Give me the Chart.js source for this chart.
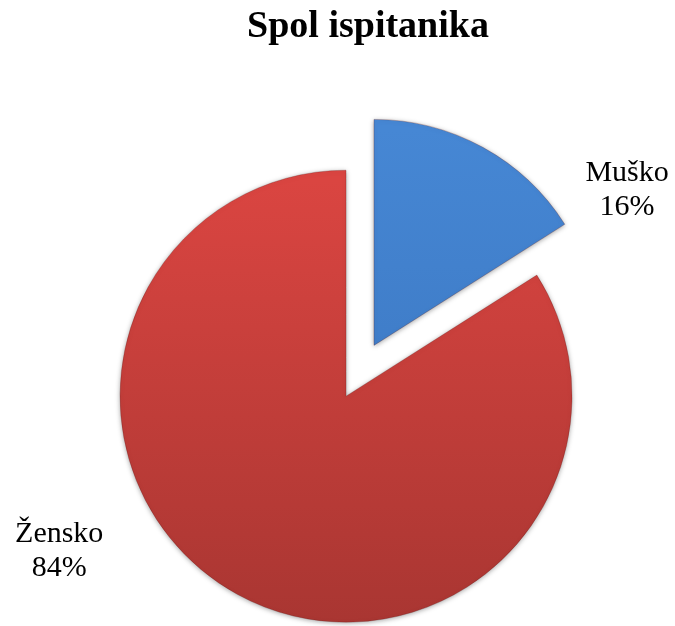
<!DOCTYPE html>
<html>
<head>
<meta charset="utf-8">
<script src="https://cdn.jsdelivr.net/npm/chart.js@4"></script>
<style>
  html, body { margin: 0; padding: 0; background: #fff; }
  #wrap { width: 675px; height: 626px; }
</style>
</head>
<body>
<div id="wrap"><canvas id="myChart"></canvas></div>
<script>
const categories = ["Muško", "Žensko"];
const percentages = [16, 84];
const sliceColors = [["#4687d4", "#3872bc"], ["#da4541", "#a63531"]];

// pull every slice out of the centre by this many pixels
const EXPLODE = 29;

const explodedSlices = {
  id: "explodedSlices",
  beforeDatasetDraw(chart, args) {
    const ctx = chart.ctx;
    args.meta.data.forEach((arc) => {
      const mid = (arc.startAngle + arc.endAngle) / 2;
      ctx.save();
      ctx.shadowColor = "rgba(0,0,0,0.35)";
      ctx.shadowBlur = 5;
      ctx.shadowOffsetY = 1;
      ctx.translate(Math.cos(mid) * EXPLODE, Math.sin(mid) * EXPLODE);
      arc.draw(ctx, chart.chartArea);
      ctx.restore();
    });
    return false;
  },
};

// outside labels: name on one line, percentage under it
const outsideLabels = {
  id: "outsideLabels",
  afterDraw(chart) {
    const ctx = chart.ctx;
    const meta = chart.getDatasetMeta(0);
    const shift = [0.47, 0.53];
    const dist = [1.43, 1.55];
    ctx.save();
    ctx.font = "30px 'Liberation Serif', 'Times New Roman', serif";
    ctx.fillStyle = "#000";
    ctx.textAlign = "center";
    ctx.textBaseline = "middle";
    meta.data.forEach((arc, i) => {
      const p = arc.getProps(["x", "y", "startAngle", "endAngle", "outerRadius"], true);
      const a = (p.startAngle + p.endAngle) / 2 + shift[i];
      const lx = p.x + Math.cos(a) * p.outerRadius * dist[i];
      const ly = p.y + Math.sin(a) * p.outerRadius * dist[i];
      ctx.fillText(categories[i], lx, ly - 16);
      ctx.fillText(percentages[i] + "%", lx, ly + 18);
    });
    ctx.restore();
  },
};

// nudge the title a bit right of the pie centre, as in the original
const titleNudge = {
  id: "titleNudge",
  afterLayout(chart) {
    chart.titleBlock.left += 8;
    chart.titleBlock.right += 8;
  },
};

onload = () => {
  const ctx = document.getElementById("myChart").getContext("2d");

  const data = {
    labels: categories,
    datasets: [
      {
        data: percentages,
        backgroundColor: (c) => {
          const area = c.chart.chartArea;
          if (!area) return sliceColors[c.dataIndex][0];
          const g = c.chart.ctx.createLinearGradient(0, area.top + 40, 0, area.bottom);
          g.addColorStop(0, sliceColors[c.dataIndex][0]);
          g.addColorStop(1, sliceColors[c.dataIndex][1]);
          return g;
        },
        borderWidth: 1,
        borderColor: "rgba(90,20,20,0.25)",
        offset: 0,
        hoverOffset: 0,
      },
    ],
  };

  const options = {
    responsive: true,
    maintainAspectRatio: false,
    animation: false,
    radius: 226,
    layout: {
      padding: { left: 45, right: 0, top: 0, bottom: 0 },
    },
    plugins: {
      legend: { display: false },
      tooltip: { enabled: false },
      title: {
        display: true,
        text: "Spol ispitanika",
        color: "#000",
        font: { family: "'Liberation Serif', 'Times New Roman', serif", size: 38, weight: "bold" },
        padding: { top: 4, bottom: 66 },
      },
    },
  };

  new Chart(ctx, {
    type: "pie",
    data: data,
    options: options,
    plugins: [explodedSlices, outsideLabels, titleNudge],
  });
};
</script>
</body>
</html>
